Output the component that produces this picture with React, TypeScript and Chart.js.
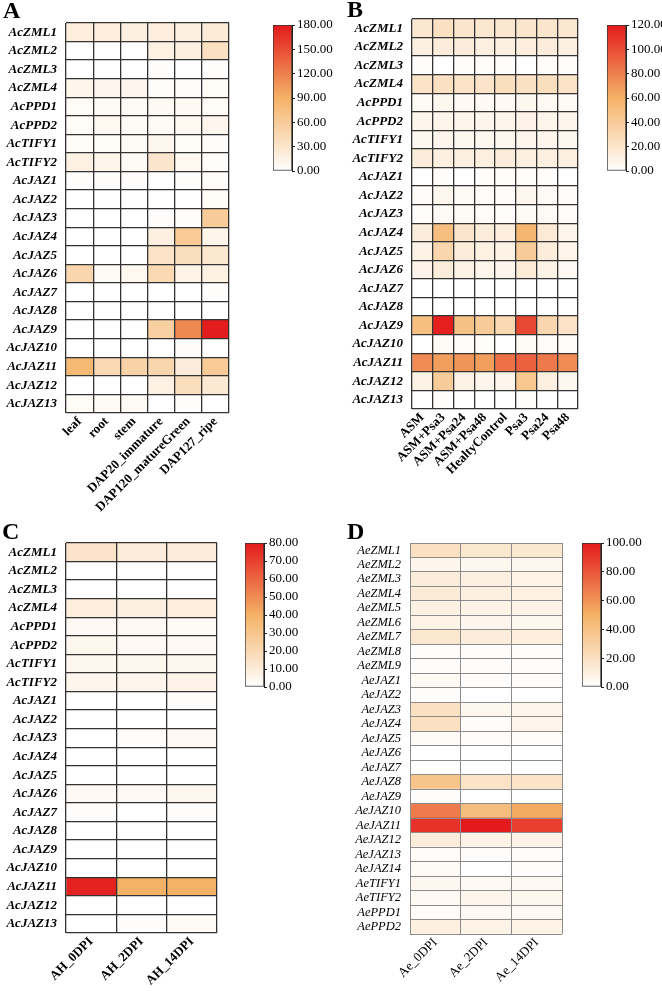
import React, { useEffect, useRef } from 'react';
import { Chart, registerables } from 'chart.js';
Chart.register(...registerables);

const FONT = "'Liberation Serif', 'Times New Roman', serif";

// ---------- Panel A ----------
const A_ROWS = ['AcZML1', 'AcZML2', 'AcZML3', 'AcZML4', 'AcPPD1', 'AcPPD2', 'AcTIFY1', 'AcTIFY2', 'AcJAZ1', 'AcJAZ2', 'AcJAZ3', 'AcJAZ4', 'AcJAZ5', 'AcJAZ6', 'AcJAZ7', 'AcJAZ8', 'AcJAZ9', 'AcJAZ10', 'AcJAZ11', 'AcJAZ12', 'AcJAZ13'];
const A_COLS = ['leaf', 'root', 'stem', 'DAP20_immature', 'DAP120_matureGreen', 'DAP127_ripe'];
const A_leaf = [20, 0, 0, 12, 4, 4, 4, 16, 1, 0, 0, 0, 0, 48, 0, 0, 0, 0, 82, 0, 4];
const A_root = [20, 0, 0, 10, 5, 8, 4, 12, 2, 0, 0, 0, 0, 5, 0, 0, 0, 0, 44, 0, 6];
const A_stem = [18, 0, 0, 10, 5, 6, 6, 5, 2, 0, 0, 0, 0, 8, 0, 0, 0, 0, 52, 0, 6];
const A_dap20 = [20, 16, 2, 1, 7, 5, 9, 30, 0, 0, 2, 18, 33, 45, 0, 0, 55, 0, 48, 16, 0];
const A_dap120 = [18, 18, 0, 3, 7, 8, 4, 8, 1, 0, 1, 62, 38, 14, 0, 0, 115, 2, 22, 38, 1];
const A_dap127 = [24, 36, 1, 4, 4, 10, 2, 1, 1, 4, 60, 12, 28, 16, 1, 0, 178, 0, 62, 26, 0];
const A_MAX = 180;
const A_STEP = 30;

// ---------- Panel B ----------
const B_ROWS = A_ROWS;
const B_COLS = ['ASM', 'ASM+Psa3', 'ASM+Psa24', 'ASM+Psa48', 'HealtyControl', 'Psa3', 'Psa24', 'Psa48'];
const B_asm = [18, 12, 1, 22, 4, 7, 6, 14, 0, 2, 1, 14, 10, 9, 0, 0, 50, 0, 75, 10, 0];
const B_asmPsa3 = [24, 14, 0, 24, 6, 8, 7, 12, 1, 6, 4, 50, 32, 14, 0, 0, 118, 4, 68, 40, 1];
const B_asmPsa24 = [20, 14, 1, 22, 5, 8, 6, 12, 0, 4, 3, 20, 14, 10, 0, 0, 48, 2, 72, 10, 0];
const B_asmPsa48 = [18, 12, 1, 21, 5, 7, 6, 12, 1, 2, 2, 14, 11, 8, 0, 0, 40, 1, 68, 7, 0];
const B_healthy = [18, 12, 1, 25, 5, 7, 6, 14, 1, 2, 1, 13, 10, 7, 0, 0, 30, 0, 86, 8, 0];
const B_psa3 = [20, 13, 0, 23, 6, 9, 7, 12, 1, 6, 4, 56, 40, 16, 0, 0, 102, 4, 92, 44, 1];
const B_psa24 = [20, 14, 1, 25, 5, 8, 7, 12, 1, 4, 3, 16, 14, 10, 0, 0, 32, 2, 82, 12, 0];
const B_psa48 = [18, 12, 1, 22, 4, 7, 6, 12, 0, 2, 2, 8, 8, 5, 0, 0, 22, 2, 75, 6, 0];
const B_MAX = 120;
const B_STEP = 20;

// ---------- Panel C ----------
const C_ROWS = A_ROWS;
const C_COLS = ['AH_0DPI', 'AH_2DPI', 'AH_14DPI'];
const C_0dpi = [14, 0, 0, 9, 3, 4, 4, 5, 0, 0, 0, 0, 0, 3, 1, 0, 0, 0, 78, 0, 0];
const C_2dpi = [10, 0, 0, 8, 3, 3, 4, 5, 0, 0, 1, 0, 0, 3, 0, 0, 0, 0, 40, 0, 1];
const C_14dpi = [10, 0, 0, 9, 2, 3, 4, 6, 1, 0, 3, 0, 0, 4, 1, 0, 0, 0, 40, 0, 2];
const C_MAX = 80;
const C_STEP = 10;

// ---------- Panel D ----------
const D_ROWS = ['AeZML1', 'AeZML2', 'AeZML3', 'AeZML4', 'AeZML5', 'AeZML6', 'AeZML7', 'AeZML8', 'AeZML9', 'AeJAZ1', 'AeJAZ2', 'AeJAZ3', 'AeJAZ4', 'AeJAZ5', 'AeJAZ6', 'AeJAZ7', 'AeJAZ8', 'AeJAZ9', 'AeJAZ10', 'AeJAZ11', 'AeJAZ12', 'AeJAZ13', 'AeJAZ14', 'AeTIFY1', 'AeTIFY2', 'AePPD1', 'AePPD2'];
const D_COLS = ['Ae_0DPI', 'Ae_2DPI', 'Ae_14DPI'];
const D_0dpi = [20, 6, 12, 13, 9, 8, 16, 1, 1, 4, 1, 20, 20, 3, 0, 0, 38, 1, 68, 92, 12, 2, 3, 5, 4, 2, 10];
const D_2dpi = [16, 5, 10, 10, 8, 6, 12, 1, 1, 1, 0, 5, 2, 2, 0, 0, 18, 0, 42, 100, 8, 1, 0, 4, 6, 4, 8];
const D_14dpi = [15, 5, 8, 9, 8, 5, 11, 1, 1, 1, 0, 7, 6, 2, 0, 0, 18, 0, 53, 88, 8, 1, 1, 4, 5, 4, 8];
const D_MAX = 100;
const D_STEP = 20;

// colour map: white -> light orange -> red
const STOPS: [number, number[]][] = [
  [0, [255, 255, 255]],
  [0.5, [244, 178, 102]],
  [1, [227, 26, 28]],
];
function colorFor(v: number, max: number) {
  const t = Math.max(0, Math.min(1, v / max));
  for (let i = 1; i < STOPS.length; i++) {
    const [t1, c1] = STOPS[i];
    const [t0, c0] = STOPS[i - 1];
    if (t <= t1) {
      const f = (t - t0) / (t1 - t0);
      const c = c0.map((a, k) => Math.round(a + (c1[k] - a) * f));
      return `rgb(${c[0]},${c[1]},${c[2]})`;
    }
  }
  return 'rgb(227,26,28)';
}

type Box = { left: number; top: number; width: number; height: number };
type Area = { left: number; top: number; right: number; bottom: number };

function Heatmap(props: {
  rows: string[]; cols: string[]; values: number[][]; max: number;
  box: Box; area: Area; light?: boolean;
}) {
  const ref = useRef<HTMLCanvasElement | null>(null);
  const { rows, cols, values, max, box, area, light } = props;
  useEffect(() => {
    if (!ref.current) return;
    const padTop = area.top - box.top;
    const padRight = box.left + box.width - area.right;
    const yWidth = area.left - box.left;
    const xHeight = box.top + box.height - area.bottom;
    const cellW = (area.right - area.left) / cols.length;
    const gridColor = light ? '#8c8c8c' : '#333333';
    const gridWidth = light ? 1 : 1.3;
    const yFont = light
      ? { family: FONT, size: 12.5, style: 'italic' as const, weight: 'normal' as const }
      : { family: FONT, size: 13, style: 'italic' as const, weight: 'bold' as const };
    const xFont = light
      ? { family: FONT, size: 13, weight: 'normal' as const }
      : { family: FONT, size: 13, weight: 'bold' as const };
    const chart = new Chart(ref.current, {
      type: 'bar',
      data: {
        labels: rows,
        datasets: cols.map((c, j) => ({
          label: c,
          data: rows.map(() => 1),
          backgroundColor: values[j].map((v) => colorFor(v, max)),
          borderWidth: 0,
          barPercentage: 1,
          categoryPercentage: 1,
        })),
      },
      options: {
        indexAxis: 'y',
        responsive: false,
        maintainAspectRatio: false,
        animation: false,
        layout: { padding: { top: padTop, right: padRight, left: 0, bottom: 0 } },
        plugins: { legend: { display: false }, tooltip: { enabled: false }, title: { display: false } },
        scales: {
          x: {
            type: 'linear',
            stacked: true,
            min: 0,
            max: cols.length,
            afterBuildTicks: (s: any) => {
              s.ticks = cols.map((_, i) => ({ value: i })).concat([{ value: cols.length }]);
            },
            afterFit: (s: any) => { s.height = xHeight; },
            grid: { color: gridColor, lineWidth: gridWidth, drawTicks: false, z: 1 },
            border: { display: false },
            ticks: {
              autoSkip: false,
              minRotation: 45,
              maxRotation: 45,
              labelOffset: cellW / 2,
              padding: 1,
              color: '#000',
              font: xFont,
              callback: (v: any) => cols[v as number] ?? '',
            },
          },
          y: {
            type: 'category',
            stacked: true,
            offset: true,
            afterFit: (s: any) => { s.width = yWidth; },
            grid: { offset: true, color: gridColor, lineWidth: gridWidth, drawTicks: false, z: 1 },
            border: { display: false },
            ticks: { autoSkip: false, padding: 9, color: '#000', font: yFont },
          },
        },
      },
    } as any);
    return () => chart.destroy();
  }, []);
  return (
    <canvas
      ref={ref}
      width={box.width}
      height={box.height}
      style={{ position: 'absolute', left: box.left, top: box.top, width: box.width, height: box.height }}
    />
  );
}

function ColorBar(props: { max: number; step: number; area: Area }) {
  const ref = useRef<HTMLCanvasElement | null>(null);
  const { max, step, area } = props;
  const axisW = 46;
  const box = {
    left: area.left - 2,
    top: area.top - 10,
    width: area.right - area.left + 2 + axisW,
    height: area.bottom - area.top + 20,
  };
  useEffect(() => {
    if (!ref.current) return;
    const chart = new Chart(ref.current, {
      type: 'bar',
      data: {
        labels: [''],
        datasets: [{
          data: [max],
          backgroundColor: (ctx: any) => {
            const ca = ctx.chart.chartArea;
            if (!ca) return '#fff';
            const g = ctx.chart.ctx.createLinearGradient(0, ca.bottom, 0, ca.top);
            STOPS.forEach(([t, c]) => g.addColorStop(t, `rgb(${c[0]},${c[1]},${c[2]})`));
            return g;
          },
          borderColor: '#333',
          borderWidth: 1,
          borderSkipped: false,
          barPercentage: 1,
          categoryPercentage: 1,
        }],
      },
      options: {
        responsive: false,
        maintainAspectRatio: false,
        animation: false,
        layout: { padding: { top: 10, bottom: 10, left: 2, right: 0 } },
        plugins: { legend: { display: false }, tooltip: { enabled: false } },
        scales: {
          x: { display: false },
          y: {
            position: 'right',
            min: 0,
            max: max,
            afterFit: (s: any) => { s.width = axisW; },
            grid: { drawOnChartArea: false, drawTicks: true, tickLength: 3, color: '#222' },
            border: { display: true, color: '#222' },
            ticks: {
              stepSize: step,
              autoSkip: false,
              padding: 2,
              color: '#000',
              font: { family: FONT, size: 13 },
              callback: (v: any) => Number(v).toFixed(2),
            },
          },
        },
      },
    } as any);
    return () => chart.destroy();
  }, []);
  return (
    <canvas
      ref={ref}
      width={box.width}
      height={box.height}
      style={{ position: 'absolute', left: box.left, top: box.top, width: box.width, height: box.height }}
    />
  );
}

function Letter(props: { text: string; left: number; top: number }) {
  return (
    <div
      style={{
        position: 'absolute', left: props.left, top: props.top,
        fontFamily: FONT, fontWeight: 'bold', fontSize: 24, lineHeight: 1, color: '#000',
      }}
    >
      {props.text}
    </div>
  );
}

export default function App() {
  return (
    <div style={{ position: 'absolute', left: 0, top: 0, width: 662, height: 991, background: '#fff', overflow: 'hidden' }}>
      <Heatmap
        rows={A_ROWS} cols={A_COLS}
        values={[A_leaf, A_root, A_stem, A_dap20, A_dap120, A_dap127]}
        max={A_MAX}
        box={{ left: 0, top: 0, width: 330, height: 530 }}
        area={{ left: 66, top: 23, right: 229, bottom: 413 }}
      />
      <ColorBar max={A_MAX} step={A_STEP} area={{ left: 273, top: 25, right: 292, bottom: 171 }} />

      <Heatmap
        rows={B_ROWS} cols={B_COLS}
        values={[B_asm, B_asmPsa3, B_asmPsa24, B_asmPsa48, B_healthy, B_psa3, B_psa24, B_psa48]}
        max={B_MAX}
        box={{ left: 330, top: 0, width: 332, height: 530 }}
        area={{ left: 412, top: 19, right: 578, bottom: 409 }}
      />
      <ColorBar max={B_MAX} step={B_STEP} area={{ left: 607, top: 25, right: 626, bottom: 171 }} />

      <Heatmap
        rows={C_ROWS} cols={C_COLS}
        values={[C_0dpi, C_2dpi, C_14dpi]}
        max={C_MAX}
        box={{ left: 0, top: 520, width: 330, height: 471 }}
        area={{ left: 66, top: 543, right: 217, bottom: 933 }}
      />
      <ColorBar max={C_MAX} step={C_STEP} area={{ left: 245, top: 543, right: 264, bottom: 687 }} />

      <Heatmap
        rows={D_ROWS} cols={D_COLS}
        values={[D_0dpi, D_2dpi, D_14dpi]}
        max={D_MAX}
        box={{ left: 330, top: 520, width: 332, height: 471 }}
        area={{ left: 410, top: 543, right: 562, bottom: 934 }}
        light
      />
      <ColorBar max={D_MAX} step={D_STEP} area={{ left: 582, top: 543, right: 601, bottom: 687 }} />

      <Letter text="A" left={3} top={-2} />
      <Letter text="B" left={347} top={-3} />
      <Letter text="C" left={2} top={519} />
      <Letter text="D" left={347} top={519} />
    </div>
  );
}
